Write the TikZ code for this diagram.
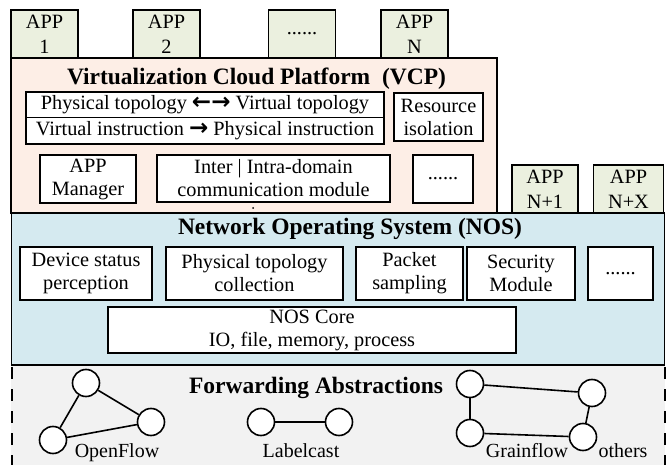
\documentclass[tikz,border=0pt]{standalone}
\usepackage{fontspec}
\setmainfont{Liberation Serif}
\newfontfamily\arrowfont{DejaVu Sans}
\definecolor{appfill}{HTML}{EBF0DF}
\definecolor{vcpfill}{HTML}{FDEEE6}
\definecolor{nosfill}{HTML}{D5EAF0}
\definecolor{fwdfill}{HTML}{F2F2F2}
\newcommand{\bigarrows}[1]{{\arrowfont\bfseries\fontsize{23}{23}\selectfont #1}}
\begin{document}
\begin{tikzpicture}[x=1pt,y=-1pt,
  box/.style={draw, line width=1.6pt, inner sep=0pt, outer sep=0pt,
    align=center, fill=white, font=\fontsize{20.3}{23}\selectfont},
  appbox/.style={box, fill=appfill, font=\fontsize{20.3}{25}\selectfont,
    minimum width=67pt, minimum height=48pt},
  layertitle/.style={inner sep=0pt, anchor=base, font=\bfseries\fontsize{23.5}{26}\selectfont},
  vertex/.style={circle, draw, fill=white, line width=1.6pt, minimum size=27pt, inner sep=0pt},
  link/.style={line width=1.6pt},
  caption/.style={inner sep=0pt, anchor=base, font=\fontsize{20}{23}\selectfont},
  sidedash/.style={line width=1.6pt, dash pattern=on 12pt off 10pt}]
\useasboundingbox (0,0) rectangle (667,465);

% forwarding abstraction layer
\fill[fwdfill] (11,365) rectangle (665,465);
\draw[sidedash] (12,367) -- (12,465);
\draw[sidedash] (665,367) -- (665,465);

% network operating system layer
\node[box, fill=nosfill, minimum width=653pt, minimum height=152pt] (nos) at (338,289) {};
% virtualization cloud platform layer
\node[box, fill=vcpfill, minimum width=486pt, minimum height=155pt] (vcp) at (254,135.5) {};

% applications
\node[appbox] (app1) at (44.5,34) {APP\\1};
\node[appbox] (app2) at (166.5,34) {APP\\2};
\node[appbox] (appdots) at (302,34) {......};
\node[appbox] (appn) at (414.5,34) {APP\\N};
\node[appbox, minimum width=66pt] (appn1) at (545,189) {APP\\N+1};
\node[appbox, minimum width=70pt] (appnx) at (628.5,189) {APP\\N+X};

% VCP contents
\node[layertitle] (vcptitle) at (256.5,85) {Virtualization Cloud Platform\enspace(VCP)};
\node[box, minimum width=358pt, minimum height=25.5pt] (topomap) at (205,104.75)
  {Physical topology \bigarrows{←→} Virtual topology};
\node[box, minimum width=358pt, minimum height=26.5pt] (instrmap) at (205,130.75)
  {Virtual instruction \bigarrows{→} Physical instruction};
\node[box, minimum width=89pt, minimum height=48pt] (isolation) at (438.5,117) {Resource\\isolation};
\node[box, minimum width=96pt, minimum height=48pt] (appmgr) at (88,179) {APP\\Manager};
\node[box, minimum width=233pt, minimum height=47pt] (comm) at (273.5,178.5)
  {Inter | Intra-domain\\communication module};
\node[box, minimum width=60pt, minimum height=48pt] (vcpdots) at (443,179) {......};
\fill (253,208) circle (1pt);

% NOS contents
\node[layertitle] (nostitle) at (350,235) {Network Operating System (NOS)};
\node[box, minimum width=132pt, minimum height=53pt] (device) at (86,273.5) {Device status\\perception};
\node[box, minimum width=177pt, minimum height=53pt] (topocol) at (254.5,273.5) {Physical topology\\collection};
\node[box, minimum width=107pt, minimum height=53pt] (sampling) at (409.5,273.5) {Packet\\sampling};
\node[box, minimum width=108pt, minimum height=53pt] (security) at (521,273.5) {Security\\Module};
\node[box, minimum width=65pt, minimum height=53pt] (nosdots) at (620.5,273.5) {......};
\node[box, minimum width=408pt, minimum height=46pt] (core) at (312,330) {NOS Core\\IO, file, memory, process};

% forwarding abstractions
\node[layertitle] (fwdtitle) at (316,393) {Forwarding Abstractions};
\node[vertex] (of1) at (86,383) {};
\node[vertex] (of2) at (151,422) {};
\node[vertex] (of3) at (53,440) {};
\draw[link] (of1) -- (of2);
\draw[link] (of1) -- (of3);
\draw[link] (of3) -- (of2);
\node[vertex] (lc1) at (261,422) {};
\node[vertex] (lc2) at (339,422) {};
\draw[link] (lc1) -- (lc2);
\node[vertex] (gf1) at (470,384) {};
\node[vertex] (gf2) at (592,393) {};
\node[vertex] (gf3) at (470,433) {};
\node[vertex] (gf4) at (583,437) {};
\draw[link] (gf1) -- (gf2);
\draw[link] (gf1) -- (gf3);
\draw[link] (gf3) -- (gf4);
\draw[link] (gf2) -- (gf4);
\node[caption] (ofname) at (117,457) {OpenFlow};
\node[caption] (lcname) at (301,457) {Labelcast};
\node[caption] (gfname) at (527,457) {Grainflow};
\node[caption] (othername) at (623,457) {others};
\end{tikzpicture}
\end{document}
